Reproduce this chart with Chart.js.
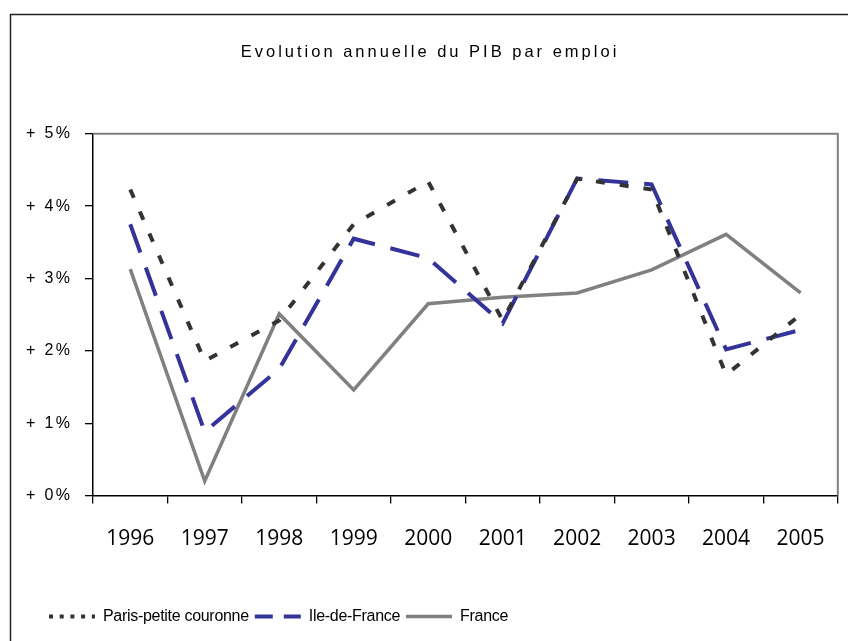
<!DOCTYPE html>
<html lang="fr">
<head>
<meta charset="utf-8">
<title>Evolution annuelle du PIB par emploi</title>
<script src="https://cdn.jsdelivr.net/npm/chart.js@4.4.1/dist/chart.umd.min.js"></script>
<style>
    body { margin: 0; background: #fff; }
    #cadre { width: 848px; height: 641px; }
</style>
</head>
<body>
<div id="cadre"><canvas id="graphiquePIB"></canvas></div>
<script>
// Données (évolution annuelle, en %)
const annees = ['1996', '1997', '1998', '1999', '2000', '2001', '2002', '2003', '2004', '2005'];
const parisPetiteCouronne = [4.23, 1.86, 2.42, 3.75, 4.34, 2.42, 4.38, 4.23, 1.67, 2.5];
const ileDeFrance = [3.75, 0.88, 1.75, 3.55, 3.28, 2.38, 4.38, 4.3, 2.02, 2.29];
const france = [3.13, 0.2, 2.51, 1.46, 2.65, 2.74, 2.8, 3.12, 3.61, 2.8];
const graduations = [0, 1, 2, 3, 4, 5];

// Espacement des lettres / décalage horizontal d'un bloc du graphique
function espacer(obj, methode, espacement, decalage) {
    if (!obj || obj['_esp_' + methode]) return;
    const original = obj[methode];
    obj['_esp_' + methode] = true;
    obj[methode] = function (...args) {
        const ctx = this.ctx;
        ctx.save();
        ctx.letterSpacing = espacement;
        ctx.translate(decalage, 0);
        original.apply(this, args);
        ctx.restore();
    };
}

const cadrePlugin = {
    id: 'cadre',
    beforeDraw(chart) {
        espacer(chart.titleBlock, 'draw', '3px', 0);
        espacer(chart.scales.y, 'drawLabels', '2.4px', 0);
        espacer(chart.legend, 'draw', '-0.3px', 23); // légende décalée vers la droite
    },
    afterDraw(chart) {
        const ctx = chart.ctx;
        const a = chart.chartArea;
        ctx.save();
        // bord haut et droit de la zone de traçage
        ctx.strokeStyle = '#808080';
        ctx.lineWidth = 2;
        ctx.beginPath();
        ctx.moveTo(a.left, a.top);
        ctx.lineTo(a.right, a.top);
        ctx.lineTo(a.right, a.bottom);
        ctx.stroke();
        // cadre extérieur du graphique
        ctx.strokeStyle = '#222';
        ctx.lineWidth = 1.5;
        ctx.strokeRect(10.5, 14.5, 1000, 1000);
        ctx.restore();
    }
};

const ctx = document.getElementById('graphiquePIB').getContext('2d');
new Chart(ctx, {
    type: 'line',
    data: {
        labels: annees,
        datasets: [{
            label: 'Paris-petite couronne',
            data: parisPetiteCouronne,
            borderColor: '#333333',
            borderWidth: 4,
            borderDash: [9, 15],
            pointRadius: 0,
            tension: 0
        }, {
            label: 'Ile-de-France',
            data: ileDeFrance,
            borderColor: '#333399',
            borderWidth: 4,
            borderDash: [30, 16],
            pointRadius: 0,
            tension: 0
        }, {
            label: 'France',
            data: france,
            borderColor: '#808080',
            borderWidth: 3.5,
            pointRadius: 0,
            tension: 0
        }]
    },
    options: {
        responsive: true,
        maintainAspectRatio: false,
        animation: false,
        layout: { padding: { left: 20, right: 8, top: 0, bottom: 6.5 } },
        plugins: {
            title: {
                display: true,
                text: 'Evolution annuelle du PIB par emploi',
                color: '#000',
                font: { family: '"Liberation Sans", Arial, sans-serif', size: 16.5, weight: 'normal' },
                padding: { top: 43, bottom: 71 }
            },
            legend: {
                position: 'bottom',
                align: 'start',
                labels: {
                    color: '#000',
                    font: { family: '"Liberation Sans", Arial, sans-serif', size: 16 },
                    usePointStyle: true,
                    pointStyle: 'line',
                    pointStyleWidth: 46,
                    padding: 6,
                    generateLabels(chart) {
                        const items = Chart.defaults.plugins.legend.labels.generateLabels(chart);
                        const tirets = [[4, 6.7], [18, 11], []];
                        items.forEach((item, i) => {
                            item.lineDash = tirets[i];
                            item.lineWidth = i === 2 ? 3.5 : 4;
                        });
                        return items;
                    }
                }
            },
            tooltip: { enabled: false }
        },
        scales: {
            x: {
                offset: true,
                grid: { offset: true, drawOnChartArea: false, drawTicks: true, tickLength: 8, color: '#000', lineWidth: 1.3 },
                border: { color: '#000', width: 1.5 },
                ticks: {
                    color: '#000',
                    padding: 23,
                    font: { family: '"Open Sans", sans-serif', size: 21 }
                },
                afterFit(scale) { scale.height = 107; }
            },
            y: {
                min: graduations[0],
                max: graduations[graduations.length - 1],
                grid: { drawOnChartArea: false, drawTicks: true, tickLength: 8, color: '#000', lineWidth: 1.3 },
                border: { color: '#000', width: 1.5 },
                ticks: {
                    stepSize: 1,
                    color: '#000',
                    padding: 12.6,
                    font: { family: '"Liberation Sans", Arial, sans-serif', size: 16 },
                    callback: v => '+ ' + v + '%'
                },
                afterFit(scale) { scale.width = 73; }
            }
        }
    },
    plugins: [cadrePlugin]
});
</script>
</body>
</html>
